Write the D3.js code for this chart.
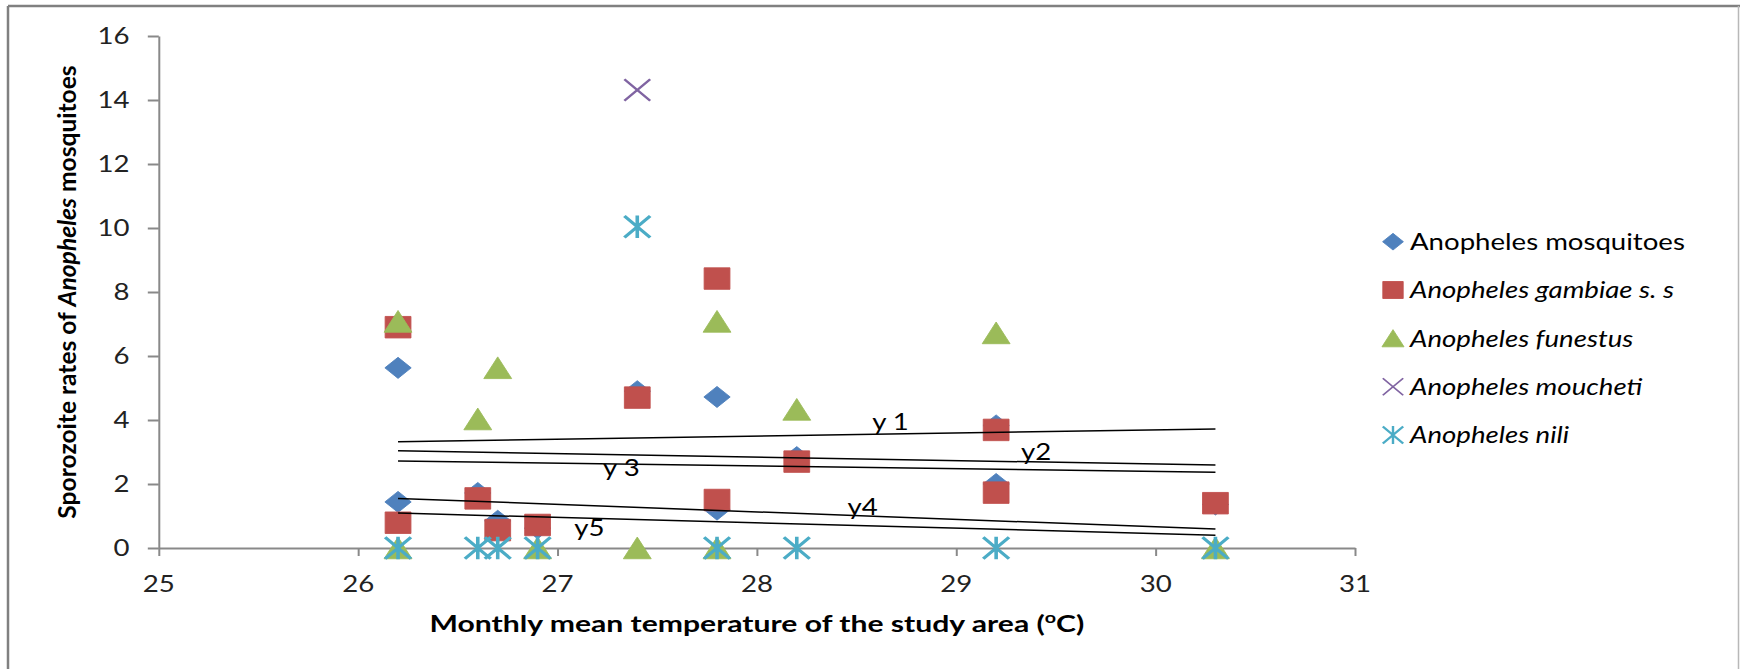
<!DOCTYPE html>
<html>
<head>
<meta charset="utf-8">
<script src="https://cdn.jsdelivr.net/npm/d3@7/dist/d3.min.js"></script>
<style>
  html, body { margin: 0; padding: 0; background: #fff; }
  svg { display: block; font-family: Lato, "Open Sans", "Liberation Sans", sans-serif; }
</style>
</head>
<body>
<svg id="chart" width="1741" height="669"></svg>
<script>
// ---------------- DATA ----------------
const seriesNames = ["Anopheles mosquitoes", "Anopheles gambiae s. s", "Anopheles funestus", "Anopheles moucheti", "Anopheles nili"];
const seriesItalic = [false, true, true, true, true];
const seriesColors = ["#4F81BD", "#C0504D", "#9BBB59", "#8064A2", "#4BACC6"];
const seriesShapes = ["diamond", "square", "triangle", "x", "star"];

const mosquitoesX = [26.2, 26.2, 26.6, 26.7, 26.9, 27.4, 27.8, 27.8, 28.2, 29.2, 29.2, 30.3];
const mosquitoesY = [5.63, 1.44, 1.72, 0.85, 0.62, 4.9, 4.72, 1.2, 2.84, 3.83, 2.0, 1.36];

const gambiaeX = [26.2, 26.2, 26.6, 26.7, 26.9, 27.4, 27.8, 27.8, 28.2, 29.2, 29.2, 30.3];
const gambiaeY = [6.9, 0.79, 1.55, 0.56, 0.72, 4.7, 8.42, 1.5, 2.7, 3.69, 1.73, 1.4];

const funestusX = [26.2, 26.2, 26.6, 26.7, 26.9, 27.4, 27.8, 27.8, 28.2, 29.2, 30.3];
const funestusY = [7.08, 0, 4.03, 5.63, 0, 0, 7.08, 0, 4.33, 6.72, 0];

const mouchetiX = [27.4];
const mouchetiY = [14.31];

const niliX = [26.2, 26.6, 26.7, 26.9, 27.4, 27.8, 28.2, 29.2, 30.3];
const niliY = [0, 0, 0, 0, 10.04, 0, 0, 0, 0];

// trend lines (linear fits) : start / end
const trendNames = ["y 1", "y2", "y 3", "y4", "y5"];
const trendX0 = [26.2, 26.2, 26.2, 26.2, 26.2];
const trendX1 = [30.3, 30.3, 30.3, 30.3, 30.3];
const trendY0 = [3.32, 3.04, 2.72, 1.55, 1.09];
const trendY1 = [3.72, 2.59, 2.37, 0.59, 0.40];
const trendLabelX = [28.67, 29.40, 27.32, 28.53, 27.16];
const trendLabelY = [3.95, 3.01, 2.50, 1.29, 0.64];

const xTicks = [25, 26, 27, 28, 29, 30, 31];
const yTicks = [0, 2, 4, 6, 8, 10, 12, 14, 16];

const xTitle = "Monthly mean temperature of the study area (";
const xTitleSup = "o";
const xTitleEnd = "C)";
const yTitleA = "Sporozoite rates of ";
const yTitleB = "Anopheles";
const yTitleC = " mosquitoes";

// ---------------- LAYOUT ----------------
const SX = 1.2;           // horizontal stretch of the original picture
const svg = d3.select("#chart");
const x = d3.scaleLinear().domain([25, 31]).range([158.8, 1355]);
const y = d3.scaleLinear().domain([0, 16]).range([548, 36]);
const axisColor = "#898989";
const fontSize = 23;

// chart frame
svg.append("line").attr("x1", 8).attr("x2", 1740).attr("y1", 6).attr("y2", 6)
  .attr("stroke", "#808080").attr("stroke-width", 2.5);
svg.append("line").attr("x1", 8).attr("x2", 8).attr("y1", 6).attr("y2", 669)
  .attr("stroke", "#808080").attr("stroke-width", 2.5);
svg.append("line").attr("x1", 1738.5).attr("x2", 1738.5).attr("y1", 6).attr("y2", 669)
  .attr("stroke", "#b8b8b8").attr("stroke-width", 1.5);

// axes
const xAxis = d3.axisBottom(x).tickValues(xTicks).tickSize(8).tickSizeOuter(0).tickFormat(d3.format("d"));
const yAxis = d3.axisLeft(y).tickValues(yTicks).tickSize(11).tickSizeOuter(0).tickFormat(d3.format("d"));

const gx = svg.append("g").attr("transform", `translate(0,${y(0)})`).call(xAxis);
const gy = svg.append("g").attr("transform", `translate(${x(25)},0)`).call(yAxis);
[gx, gy].forEach(g => {
  g.select(".domain").attr("stroke", axisColor).attr("stroke-width", 2);
  g.selectAll(".tick line").attr("stroke", axisColor).attr("stroke-width", 2);
  g.selectAll(".tick text").remove();
});
// tick labels (stretched like the original)
svg.append("g").selectAll("text").data(xTicks).join("text")
  .attr("transform", d => `translate(${x(d)},591.5) scale(${SX},1)`)
  .attr("text-anchor", "middle").attr("font-size", fontSize).attr("fill", "#222")
  .text(d => d);
svg.append("g").selectAll("text").data(yTicks).join("text")
  .attr("transform", d => `translate(129.5,${y(d) + 8.3}) scale(${SX},1)`)
  .attr("text-anchor", "end").attr("font-size", fontSize).attr("fill", "#222")
  .text(d => d);

// axis titles
const xt = svg.append("text")
  .attr("transform", `translate(${(x(25) + x(31)) / 2},631.5) scale(1.31,1)`)
  .attr("text-anchor", "middle").attr("font-size", fontSize).attr("font-weight", "bold").attr("fill", "#000");
xt.append("tspan").text(xTitle);
xt.append("tspan").attr("font-size", 15).attr("dy", -9).text(xTitleSup);
xt.append("tspan").attr("dy", 9).text(xTitleEnd);

const yt = svg.append("text")
  .attr("transform", `translate(76,${(y(0) + y(16)) / 2}) rotate(-90)`)
  .attr("text-anchor", "middle").attr("font-size", 24.6).attr("font-weight", "bold").attr("fill", "#000");
yt.append("tspan").text(yTitleA);
yt.append("tspan").attr("font-style", "italic").text(yTitleB);
yt.append("tspan").text(yTitleC);

// marker shapes (unstretched size s)
function shapePath(shape, s) {
  const h = s / 2;
  switch (shape) {
    case "diamond": return `M0,${-h * 0.98}L${h * 1.02},0L0,${h * 0.98}L${-h * 1.02},0Z`;
    case "square": return `M${-h},${-h}H${h}V${h}H${-h}Z`;
    case "triangle": return `M0,${-h * 1.02}L${h * 1.08},${h}L${-h * 1.08},${h}Z`;
    case "x": return `M${-h},${-h}L${h},${h}M${h},${-h}L${-h},${h}`;
    case "star": return `M${-h},${-h}L${h},${h}M${h},${-h}L${-h},${h}M0,${-h * 1.05}V${h * 1.05}`;
  }
}
function styleShape(sel, i, legend) {
  const shape = seriesShapes[i], c = seriesColors[i];
  if (shape === "x" || shape === "star") {
    sel.attr("fill", "none").attr("stroke", c)
      .attr("stroke-width", shape === "x" ? (legend ? 1.6 : 2.2) : (legend ? 2 : 3));
  } else {
    sel.attr("fill", c).attr("stroke", c).attr("stroke-width", 0.8);
  }
}

const seriesX = [mosquitoesX, gambiaeX, funestusX, mouchetiX, niliX];
const seriesY = [mosquitoesY, gambiaeY, funestusY, mouchetiY, niliY];
const markerSize = 21.5;

seriesNames.forEach((name, i) => {
  const pts = seriesX[i].map((v, k) => ({ x: v, y: seriesY[i][k] }));
  const g = svg.append("g");
  g.selectAll("path").data(pts).join("path")
    .attr("d", shapePath(seriesShapes[i], markerSize))
    .attr("transform", d => `translate(${x(d.x)},${y(d.y)}) scale(${SX},1)`)
    .call(sel => styleShape(sel, i, false));
});

// trend lines
const trends = trendNames.map((n, i) => ({ n, x0: trendX0[i], x1: trendX1[i], y0: trendY0[i], y1: trendY1[i], lx: trendLabelX[i], ly: trendLabelY[i] }));
svg.append("g").selectAll("line").data(trends).join("line")
  .attr("x1", d => x(d.x0)).attr("x2", d => x(d.x1))
  .attr("y1", d => y(d.y0)).attr("y2", d => y(d.y1))
  .attr("stroke", "#000").attr("stroke-width", 1.5);
svg.append("g").selectAll("text").data(trends).join("text")
  .attr("transform", d => `translate(${x(d.lx)},${y(d.ly) + 8}) scale(${SX},1)`)
  .attr("text-anchor", "middle").attr("font-size", fontSize).attr("fill", "#000")
  .text(d => d.n);

// legend
const legendRows = [241.7, 290, 338.3, 386.7, 435];
const lg = svg.append("g");
seriesNames.forEach((name, i) => {
  lg.append("path")
    .attr("d", shapePath(seriesShapes[i], 17))
    .attr("transform", `translate(1393,${legendRows[i]}) scale(${SX},1)`)
    .call(sel => styleShape(sel, i, true));
  lg.append("text")
    .attr("transform", `translate(1410,${legendRows[i] + 8.3}) scale(${SX},1)`)
    .attr("font-size", fontSize).attr("fill", "#000")
    .attr("font-style", seriesItalic[i] ? "italic" : "normal")
    .text(name);
});
</script>
</body>
</html>
